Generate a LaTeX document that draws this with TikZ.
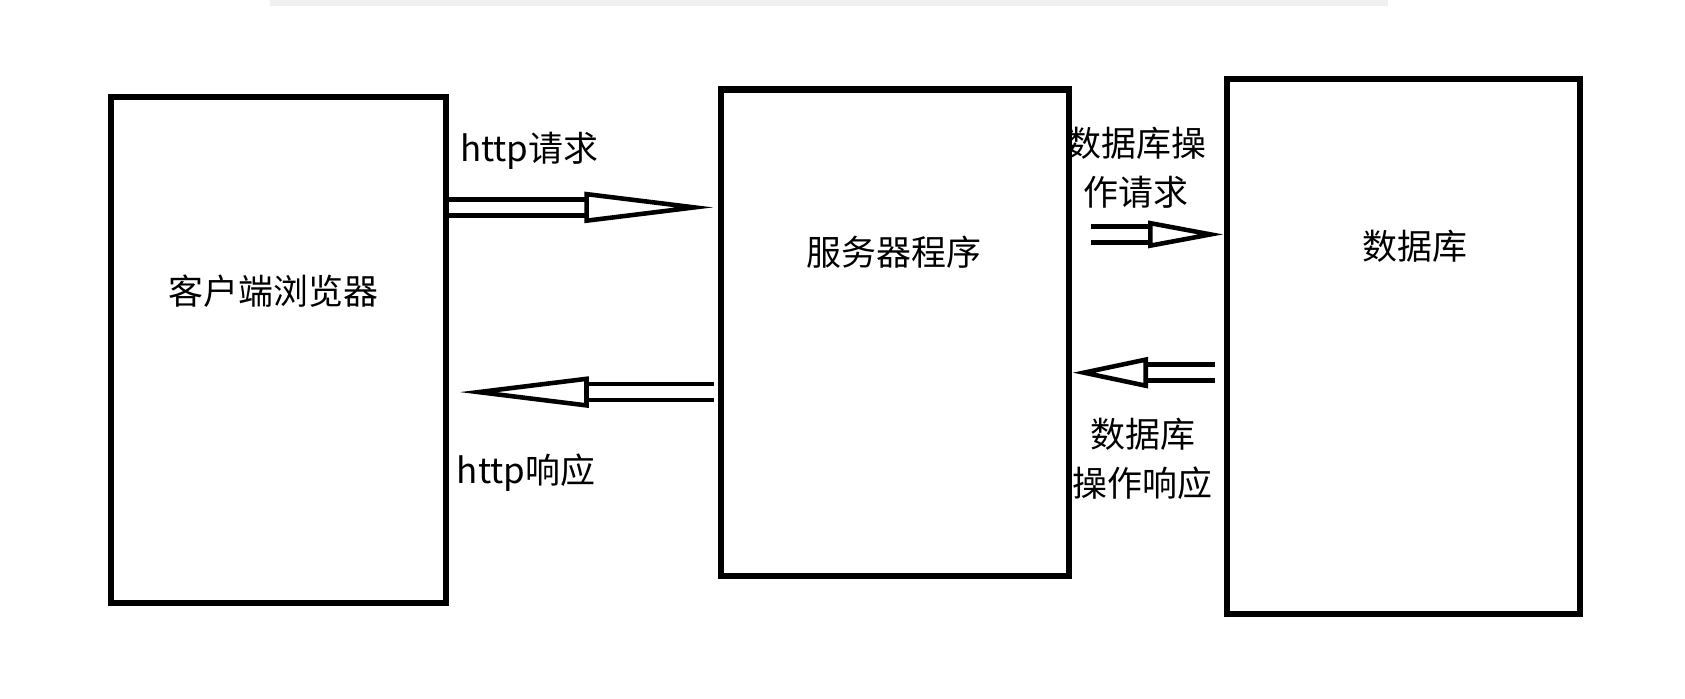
\documentclass[tikz,border=0pt]{standalone}
\usepackage{fontspec}
\newfontfamily\cjk{Noto Sans CJK SC}
\usetikzlibrary{arrows.meta,positioning,calc}

\begin{document}
\begin{tikzpicture}[x=0.01cm,y=-0.01cm,
box/.style={draw,line width=1.6pt,inner sep=0pt,anchor=north west},
lbl/.style={font=\cjk\fontsize{9.2}{15}\selectfont,align=center},
flow/.style={line width=1.2pt,double distance=3pt,
  -{Triangle[open,length=12mm,width=8pt,line width=1.2pt]}}]
\useasboundingbox (0,0) rectangle (1560,647);
\draw[black!6,line width=3pt] (250,0) -- (1285,0);
% boxes
\node[box,minimum width=3.1cm,minimum height=4.68cm] (client) at (100,87) {};
\node[box,minimum width=3.22cm,minimum height=4.5cm] (server) at (665,80) {};
\node[box,minimum width=3.27cm,minimum height=4.95cm] (db) at (1133,70) {};
% texts
\node[lbl] (tclient) at (253,270) {客户端浏览器};
\node[lbl] (tserver) at (828,233) {服务器程序};
\node[lbl] (tdb) at (1310,228) {数据库};
\node[lbl] (req) at (490,140) {http请求};
\node[lbl] (resp) at (487,438) {http响应};
\node[lbl] (dbreq) at (1052,155) {数据库操\\[-2pt]作请求};
\node[lbl] (dbresp) at (1058,425) {数据库\\[-2pt]操作响应};
% arrows
\coordinate (a1) at (client.east |- 0,192);
\coordinate (b1) at ($(server.west |- 0,192)+(-4,0)$);
\coordinate (a2) at ($(server.west |- 0,363)+(-4,0)$);
\coordinate (b2) at (425,363);
\coordinate (a3) at (1010,217);
\coordinate (b3) at (db.west |- 0,217);
\coordinate (a4) at (1125,345);
\coordinate (b4) at (server.east |- 0,345);
\draw[flow] (a1) -- (b1);
\draw[flow] (a2) -- (b2);
\draw[flow,-{Triangle[open,length=7mm,width=7pt,line width=1.2pt]}] (a3) -- (b3);
\draw[flow,-{Triangle[open,length=7mm,width=8pt,line width=1.2pt]}] (a4) -- (b4);
\end{tikzpicture}
\end{document}
